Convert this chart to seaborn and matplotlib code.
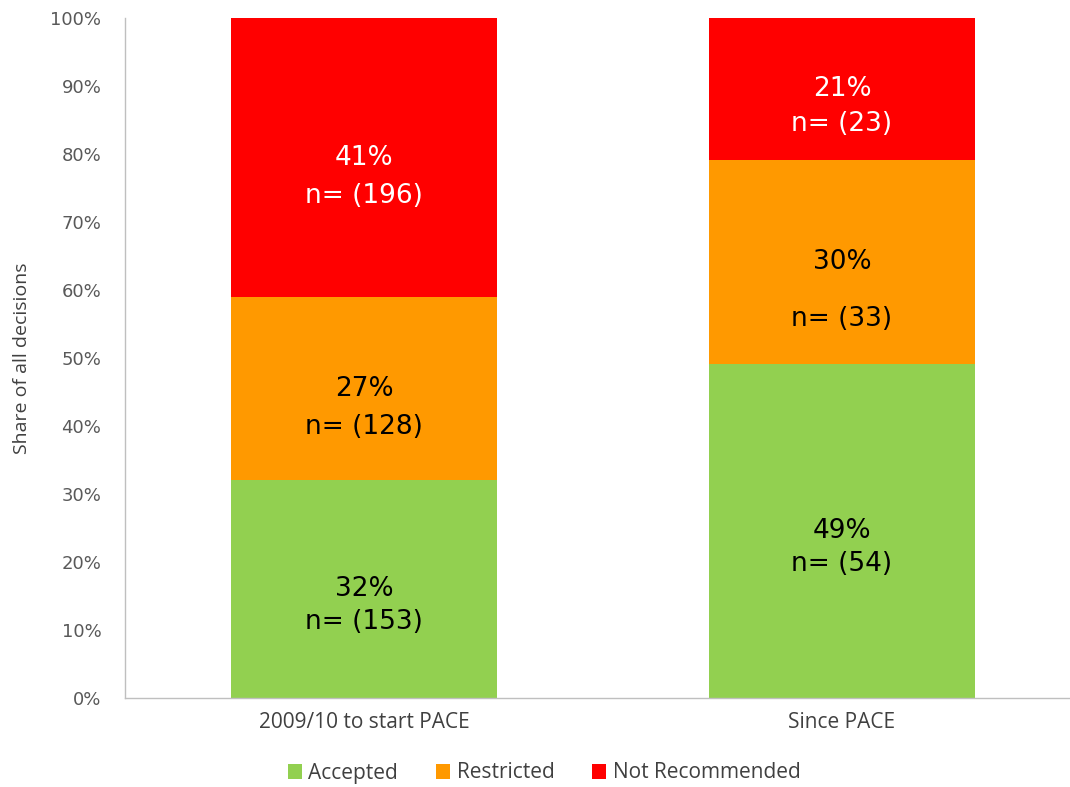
import matplotlib
matplotlib.use("Agg")
import matplotlib.pyplot as plt
import seaborn as sns
import pandas as pd
import numpy as np
from matplotlib.patches import Patch

categories = ["2009/10 to start PACE", "Since PACE"]
series = ["Accepted", "Restricted", "Not Recommended"]
counts_accepted = [153, 54]
counts_restricted = [128, 33]
counts_notrec = [196, 23]
pct_accepted = ["32%", "49%"]
pct_restricted = ["27%", "30%"]
pct_notrec = ["41%", "21%"]
yticks = [0, 10, 20, 30, 40, 50, 60, 70, 80, 90, 100]

colors = {"Accepted": "#92D050", "Restricted": "#FF9900", "Not Recommended": "#FF0000"}
label_colors = {"Accepted": "black", "Restricted": "black", "Not Recommended": "white"}
# gap (pixels) between the percentage line and the n= line, per series/category
n_gap = {"Accepted": [33, 33], "Restricted": [38, 57], "Not Recommended": [38, 35]}

sns.set_theme(style="white")

counts = {"Accepted": counts_accepted, "Restricted": counts_restricted,
          "Not Recommended": counts_notrec}
pcts = {"Accepted": pct_accepted, "Restricted": pct_restricted,
        "Not Recommended": pct_notrec}
totals = np.array(counts_accepted) + np.array(counts_restricted) + np.array(counts_notrec)
shares = {s: np.array(counts[s]) / totals * 100 for s in series}
cum = {}
run = np.zeros(len(categories))
bottoms = {}
for s in series:
    bottoms[s] = run.copy()
    run = run + shares[s]
    cum[s] = run.copy()

fig = plt.figure(figsize=(10.7, 7.87), dpi=100)
ax = fig.add_axes([125 / 1070, 1 - 698 / 787, 1 - 125 / 1070, (698 - 18) / 787])

for s in reversed(series):
    df = pd.DataFrame({"cat": categories, "val": cum[s]})
    sns.barplot(data=df, x="cat", y="val", color=colors[s], width=0.555,
                saturation=1, ax=ax, edgecolor="none", linewidth=0)

lab_font = "DejaVu Sans"
for s in series:
    for i in range(len(categories)):
        mid = bottoms[s][i] + shares[s][i] / 2
        ax.annotate(pcts[s][i], (i, mid), ha="center", va="center",
                    fontsize=19, family=lab_font, color=label_colors[s])
        ax.annotate(f"n= ({counts[s][i]})", (i, mid), xytext=(0, -n_gap[s][i]),
                    textcoords="offset pixels", ha="center", va="center",
                    fontsize=19, family=lab_font, color=label_colors[s])

ax.set_xlim(-0.5, 1.477)
ax.set_ylim(0, 100)
ax.set_yticks(yticks)
ax.set_yticklabels([f"{t}%" for t in yticks], fontsize=13, color="#595959",
                   family="DejaVu Sans")
ax.set_xticks(range(len(categories)))
ax.set_xticklabels(categories, fontsize=15, color="#404040", family="Open Sans")
ax.tick_params(axis="both", length=0)
ax.tick_params(axis="x", pad=10)
ax.tick_params(axis="y", pad=17)
ax.set_xlabel("")
ax.set_ylabel("Share of all decisions", fontsize=14, color="#404040",
              family="Open Sans", labelpad=14)
for side in ["top", "right"]:
    ax.spines[side].set_visible(False)
for side in ["left", "bottom"]:
    ax.spines[side].set_color("#BFBFBF")
    ax.spines[side].set_linewidth(1)

handles = [Patch(facecolor=colors[s], edgecolor="none") for s in series]
fig.legend(handles, series, loc="center", bbox_to_anchor=(544 / 1070, 1 - 773 / 787),
           ncol=3, frameon=False, prop={"family": "Open Sans", "size": 15},
           labelcolor="#404040", handlelength=0.7, handleheight=0.7,
           handletextpad=0.3, columnspacing=1.8)

fig.savefig("out.png", dpi=100)
